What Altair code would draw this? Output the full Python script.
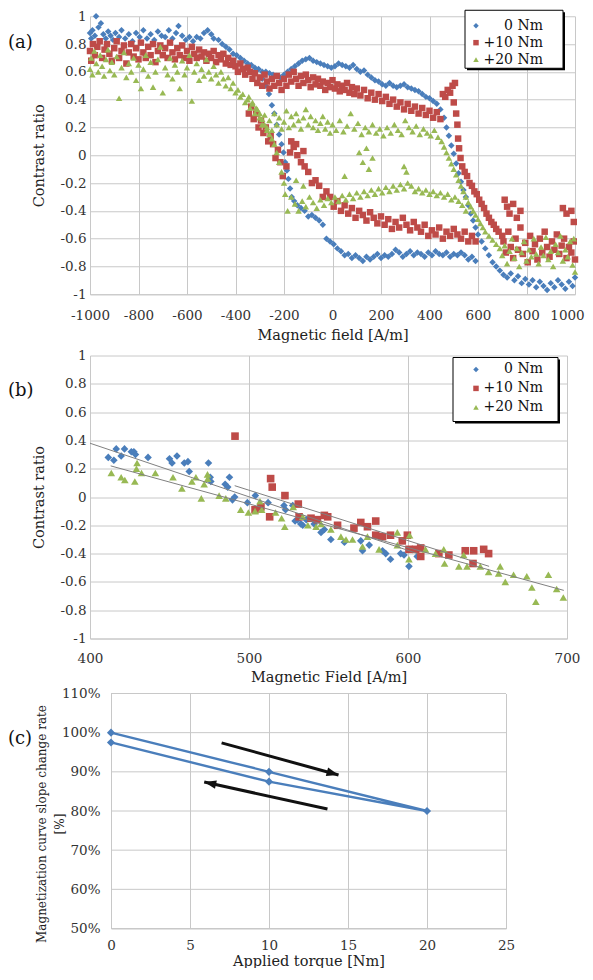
import altair as alt
import pandas as pd

FONT = "DejaVu Serif, serif"
SERIES = ["0 Nm", "+10 Nm", "+20 Nm"]
COLORS = ["#4a7ebb", "#be4b48", "#98b954"]
SHAPES = ["diamond", "square", "triangle-up"]

# ---------------- panel (a): magnetic field [A/m], contrast ratio ----------------
a_blue = [
    (-1000, 0.88), (-995, 0.84), (-990, 0.9), (-980, 0.86), (-975, 1.0), (-965, 0.92), (-955, 0.95),
    (-945, 0.87), (-935, 0.84), (-925, 0.89), (-915, 0.86), (-905, 0.83), (-895, 0.88), (-880, 0.85),
    (-870, 0.9), (-855, 0.84), (-840, 0.87), (-825, 0.82), (-810, 0.88), (-795, 0.85), (-780, 0.9),
    (-765, 0.84), (-750, 0.87), (-735, 0.83), (-720, 0.89), (-705, 0.86), (-690, 0.85), (-675, 0.9),
    (-660, 0.84), (-645, 0.88), (-635, 0.93), (-620, 0.86), (-605, 0.83), (-590, 0.85), (-575, 0.82),
    (-560, 0.85), (-545, 0.84), (-530, 0.88), (-515, 0.9), (-500, 0.87), (-490, 0.84),
    (-470, 0.83), (-455, 0.8), (-440, 0.78), (-425, 0.76), (-410, 0.73), (-395, 0.72), (-380, 0.7),
    (-365, 0.68), (-350, 0.66), (-335, 0.65), (-320, 0.63), (-305, 0.62), (-290, 0.6), (-275, 0.6),
    (-260, 0.59), (-245, 0.58), (-230, 0.57), (-215, 0.56), (-200, 0.58), (-185, 0.6),
    (-170, 0.62), (-155, 0.64), (-140, 0.66), (-125, 0.68), (-110, 0.69), (-95, 0.7), (-80, 0.68),
    (-65, 0.67), (-50, 0.66), (-35, 0.65), (-20, 0.64), (-5, 0.63), (10, 0.64), (25, 0.66), (40, 0.65),
    (55, 0.64), (70, 0.63), (85, 0.65), (100, 0.62), (115, 0.6), (130, 0.61), (145, 0.58), (160, 0.56),
    (175, 0.54), (190, 0.53), (205, 0.51), (220, 0.5), (235, 0.52), (250, 0.5), (265, 0.49), (280, 0.5),
    (295, 0.51), (310, 0.49), (325, 0.48), (340, 0.47), (355, 0.46), (370, 0.44), (385, 0.42),
    (400, 0.41), (415, 0.39), (430, 0.37), (445, 0.33),
    (460, 0.27), (470, 0.2), (480, 0.14), (490, 0.07), (500, 0.01), (510, -0.06), (520, -0.13),
    (530, -0.19), (540, -0.25), (550, -0.3), (560, -0.36), (570, -0.42), (580, -0.47), (590, -0.52),
    (600, -0.57), (615, -0.62), (630, -0.67), (645, -0.72), (660, -0.77), (675, -0.8), (690, -0.83),
    (705, -0.86), (720, -0.88), (735, -0.85), (750, -0.9), (765, -0.87), (780, -0.92), (795, -0.89),
    (810, -0.93), (825, -0.9), (840, -0.95), (855, -0.91), (870, -0.94), (885, -0.97), (900, -0.92),
    (915, -0.95), (930, -0.9), (945, -0.93), (960, -0.96), (975, -0.91), (990, -0.94), (1000, -0.88),
    (590, -0.76), (575, -0.73), (560, -0.75), (545, -0.72), (530, -0.7), (515, -0.72), (500, -0.71),
    (485, -0.73), (470, -0.7), (455, -0.72), (440, -0.71), (425, -0.69), (410, -0.72), (395, -0.7),
    (380, -0.73), (365, -0.71), (350, -0.7), (335, -0.72), (320, -0.69), (305, -0.71), (290, -0.73),
    (275, -0.7), (260, -0.68), (245, -0.71), (230, -0.73), (215, -0.72), (200, -0.74), (185, -0.71),
    (170, -0.73), (155, -0.75), (140, -0.73), (125, -0.76), (110, -0.74), (95, -0.72), (80, -0.74),
    (65, -0.71), (50, -0.72), (35, -0.69), (20, -0.67), (5, -0.64), (-10, -0.62), (-25, -0.6),
    (-40, -0.5), (-55, -0.47), (-70, -0.45), (-85, -0.43), (-100, -0.44), (-115, -0.4), (-130, -0.38),
    (-145, -0.36), (-158, -0.33), (-168, -0.3), (-175, -0.24), (-182, -0.17), (-188, -0.11),
    (-195, -0.05), (-202, 0.02), (-210, 0.08), (-220, 0.15), (-230, 0.22), (-240, 0.3), (-250, 0.36),
    (-262, 0.44), (-275, 0.5), (-290, 0.55),
]
a_red = [
    (-1000, 0.75), (-995, 0.68), (-988, 0.8), (-980, 0.72), (-970, 0.78), (-960, 0.82), (-950, 0.7),
    (-940, 0.76), (-930, 0.8), (-920, 0.73), (-910, 0.68), (-900, 0.77), (-890, 0.82), (-880, 0.7),
    (-870, 0.75), (-860, 0.79), (-850, 0.66), (-840, 0.74), (-830, 0.8), (-820, 0.71), (-810, 0.77),
    (-800, 0.69), (-790, 0.81), (-780, 0.74), (-770, 0.7), (-760, 0.78), (-750, 0.72), (-740, 0.8),
    (-730, 0.67), (-720, 0.75), (-710, 0.79), (-700, 0.72), (-690, 0.77), (-680, 0.7), (-670, 0.81),
    (-660, 0.74), (-650, 0.69), (-640, 0.77), (-630, 0.72), (-620, 0.79), (-610, 0.7), (-600, 0.75),
    (-590, 0.68), (-580, 0.78), (-570, 0.73), (-560, 0.7), (-550, 0.76), (-540, 0.71), (-530, 0.74),
    (-520, 0.68), (-510, 0.73), (-500, 0.7), (-490, 0.75), (-480, 0.67), (-470, 0.72), (-460, 0.69),
    (-450, 0.73), (-440, 0.66), (-430, 0.7), (-420, 0.65), (-410, 0.68),
    (-400, 0.64), (-390, 0.6), (-380, 0.66), (-370, 0.62), (-360, 0.58), (-350, 0.63), (-340, 0.6),
    (-330, 0.55), (-320, 0.59), (-310, 0.52), (-300, 0.56), (-290, 0.5), (-280, 0.58), (-270, 0.53),
    (-260, 0.48), (-250, 0.55), (-240, 0.5), (-230, 0.57), (-220, 0.52), (-210, 0.47), (-200, 0.55),
    (-190, 0.5), (-180, 0.58), (-170, 0.53), (-160, 0.6), (-150, 0.55), (-140, 0.5), (-130, 0.57),
    (-120, 0.52), (-110, 0.58), (-100, 0.54), (-90, 0.49), (-80, 0.56), (-70, 0.51), (-60, 0.55),
    (-50, 0.5), (-40, 0.53), (-30, 0.47), (-20, 0.52), (-10, 0.49), (0, 0.54), (10, 0.48), (20, 0.51),
    (30, 0.46), (40, 0.5), (50, 0.47), (60, 0.52), (70, 0.45), (80, 0.49), (90, 0.44), (100, 0.48),
    (115, 0.43), (130, 0.47), (145, 0.41), (160, 0.45), (175, 0.4), (190, 0.44), (205, 0.39),
    (220, 0.42), (235, 0.37), (250, 0.4), (265, 0.35), (280, 0.38), (295, 0.33), (310, 0.37),
    (325, 0.32), (340, 0.35), (355, 0.3), (370, 0.34), (385, 0.29), (400, 0.32), (415, 0.27),
    (430, 0.31), (445, 0.26),
    (455, 0.44), (465, 0.42), (475, 0.47), (485, 0.45), (495, 0.5), (505, 0.52), (500, 0.38), (510, 0.3),
    (515, 0.22), (518, 0.12), (522, 0.05), (528, -0.02), (535, -0.08), (545, -0.12), (555, -0.15),
    (565, -0.2), (575, -0.22), (585, -0.26), (595, -0.28), (605, -0.32), (615, -0.35), (625, -0.38),
    (635, -0.42), (645, -0.45), (655, -0.48), (665, -0.5), (675, -0.53), (685, -0.55), (700, -0.58),
    (710, -0.32), (720, -0.37), (730, -0.42), (745, -0.35), (760, -0.45), (775, -0.4), (950, -0.38),
    (965, -0.42), (985, -0.4), (995, -0.48),
    (705, -0.62), (715, -0.7), (725, -0.55), (735, -0.66), (745, -0.74), (755, -0.6), (765, -0.68),
    (775, -0.52), (785, -0.71), (795, -0.63), (805, -0.77), (815, -0.58), (825, -0.69), (835, -0.64),
    (845, -0.75), (855, -0.6), (865, -0.7), (875, -0.55), (885, -0.66), (895, -0.73), (905, -0.62),
    (915, -0.68), (925, -0.57), (935, -0.71), (945, -0.65), (955, -0.6), (965, -0.74), (975, -0.66),
    (985, -0.7), (995, -0.62), (1000, -0.75),
    (590, -0.62), (575, -0.58), (560, -0.62), (545, -0.55), (530, -0.6), (515, -0.57), (500, -0.53),
    (485, -0.58), (470, -0.55), (455, -0.6), (440, -0.52), (425, -0.57), (410, -0.54), (395, -0.58),
    (380, -0.5), (365, -0.55), (350, -0.52), (335, -0.48), (320, -0.54), (305, -0.5), (290, -0.45),
    (275, -0.52), (260, -0.48), (245, -0.53), (230, -0.46), (215, -0.5), (200, -0.44), (185, -0.49),
    (170, -0.45), (155, -0.41), (140, -0.47), (125, -0.43), (110, -0.4), (95, -0.45), (80, -0.38),
    (65, -0.42), (50, -0.36), (35, -0.4), (20, -0.33), (5, -0.37), (-10, -0.3), (-25, -0.26),
    (-40, -0.3), (-55, -0.22), (-70, -0.18), (-85, -0.2), (-100, -0.12), (-115, -0.08), (-130, -0.05),
    (-145, 0.0), (-160, 0.06), (-175, 0.02), (-190, -0.08), (-205, -0.15), (-215, -0.05),
    (-225, 0.04), (-235, -0.02), (-245, 0.08), (-255, 0.14), (-265, 0.1), (-275, 0.2), (-285, 0.16),
    (-295, 0.25), (-305, 0.2), (-315, 0.3), (-325, 0.26), (-335, 0.35), (-345, 0.3),
    (-170, 0.1), (-150, 0.08), (-120, 0.03),
]
a_green = [
    (-1000, 0.62), (-995, 0.7), (-990, 0.58), (-982, 0.75), (-974, 0.66), (-966, 0.6), (-958, 0.72),
    (-950, 0.64), (-942, 0.57), (-934, 0.69), (-926, 0.76), (-918, 0.61), (-910, 0.67), (-900, 0.58),
    (-890, 0.71), (-880, 0.41), (-870, 0.63), (-860, 0.74), (-850, 0.56), (-840, 0.66), (-830, 0.6),
    (-820, 0.7), (-810, 0.54), (-800, 0.65), (-790, 0.48), (-780, 0.62), (-770, 0.72), (-760, 0.57),
    (-750, 0.67), (-740, 0.49), (-730, 0.6), (-720, 0.69), (-710, 0.78), (-700, 0.45), (-690, 0.63),
    (-680, 0.58), (-670, 0.7), (-660, 0.55), (-650, 0.65), (-640, 0.6), (-630, 0.48), (-620, 0.68),
    (-610, 0.58), (-600, 0.63), (-590, 0.72), (-580, 0.39), (-570, 0.6), (-560, 0.66), (-550, 0.54),
    (-540, 0.62), (-530, 0.57), (-520, 0.69), (-510, 0.6), (-500, 0.55), (-490, 0.64), (-480, 0.58),
    (-470, 0.52), (-460, 0.6),
    (-450, 0.55), (-440, 0.5), (-430, 0.56), (-420, 0.48), (-410, 0.52), (-400, 0.45), (-390, 0.47),
    (-380, 0.42), (-370, 0.44), (-360, 0.38), (-350, 0.4), (-340, 0.34), (-330, 0.37), (-320, 0.3),
    (-310, 0.33),
    (-300, 0.27), (-290, 0.22), (-280, 0.29), (-270, 0.2), (-260, 0.25), (-250, 0.18), (-240, 0.3),
    (-230, 0.22), (-220, 0.27), (-210, 0.19), (-200, 0.24), (-190, 0.32), (-180, 0.2), (-170, 0.28),
    (-160, 0.22), (-150, 0.3), (-140, 0.25), (-130, 0.19), (-120, 0.27), (-110, 0.33), (-100, 0.22),
    (-90, 0.28), (-80, 0.2), (-70, 0.25), (-60, 0.18), (-50, 0.23), (-40, 0.28), (-30, 0.19),
    (-20, 0.24), (-10, 0.16), (0, 0.22), (15, 0.18), (30, 0.25), (45, 0.17), (60, 0.21), (75, 0.3),
    (90, 0.19), (105, 0.23), (120, 0.15), (135, 0.2), (150, 0.17), (165, 0.22), (180, 0.16),
    (195, 0.19), (210, 0.14), (225, 0.2), (240, 0.16), (255, 0.22), (270, 0.18), (285, 0.15),
    (300, 0.25), (315, 0.2), (330, 0.17), (345, 0.21), (360, 0.15), (375, 0.19), (390, 0.16),
    (405, 0.14), (420, 0.18), (435, 0.13),
    (450, 0.1), (460, 0.06), (470, 0.02), (480, -0.02), (490, -0.06), (500, -0.1), (510, -0.14),
    (520, -0.18), (530, -0.22), (540, -0.26), (550, -0.3), (560, -0.34), (570, -0.37), (580, -0.4),
    (590, -0.43), (600, -0.46), (610, -0.49), (620, -0.52), (630, -0.55), (645, -0.58), (660, -0.61),
    (675, -0.64), (690, -0.67),
    (700, -0.72), (710, -0.65), (720, -0.78), (730, -0.69), (740, -0.6), (750, -0.74), (760, -0.67),
    (770, -0.8), (780, -0.7), (790, -0.62), (800, -0.76), (810, -0.68), (820, -0.73), (830, -0.6),
    (840, -0.71), (850, -0.78), (860, -0.66), (870, -0.72), (880, -0.59), (890, -0.75), (900, -0.69),
    (910, -0.8), (920, -0.64), (930, -0.7), (940, -0.58), (950, -0.76), (960, -0.68), (970, -0.73),
    (980, -0.62), (990, -0.79), (1000, -0.84), (995, -0.6),
    (550, -0.4), (535, -0.36), (520, -0.33), (505, -0.3), (490, -0.32), (475, -0.28), (460, -0.3),
    (445, -0.27), (430, -0.29), (415, -0.26), (400, -0.28), (385, -0.25), (370, -0.27), (355, -0.24),
    (340, -0.26), (325, -0.22), (310, -0.2), (295, -0.24), (280, -0.21), (265, -0.25), (250, -0.22),
    (235, -0.26), (220, -0.23), (205, -0.27), (190, -0.24), (175, -0.28), (160, -0.25), (145, -0.29),
    (130, -0.26), (115, -0.3), (100, -0.27), (85, -0.31), (70, -0.28), (55, -0.32), (40, -0.29),
    (25, -0.33), (10, -0.3), (-5, -0.34), (-20, -0.31), (-35, -0.36), (-50, -0.32), (-65, -0.38),
    (-80, -0.34), (-95, -0.3), (-110, -0.37), (-125, -0.33), (-140, -0.4), (-155, -0.35),
    (-170, -0.3), (-185, -0.4), (-195, -0.28),
    (110, 0.02), (125, -0.05), (140, 0.05), (150, -0.1), (165, -0.02), (295, -0.08), (305, -0.12),
    (50, -0.15), (-150, -0.18), (-120, -0.22),
    (-200, -0.2), (-210, -0.12), (-220, -0.05), (-230, 0.02), (-240, 0.08), (-250, 0.12), (-260, 0.15),
    (-270, 0.18), (-280, 0.22), (-290, 0.26), (-300, 0.3), (-315, 0.34), (-330, 0.38), (-345, 0.42),
]
a_x_ticks = [-1000, -800, -600, -400, -200, 0, 200, 400, 600, 800, 1000]
ratio_ticks = [-1, -0.8, -0.6, -0.4, -0.2, 0, 0.2, 0.4, 0.6, 0.8, 1]

# ---------------- panel (b) ----------------
b_blue = [
    (411.5, 0.28), (415, 0.26), (416.5, 0.34), (419.6, 0.29), (421.7, 0.34), (426, 0.32), (427.6, 0.32),
    (428.6, 0.30), (436.5, 0.28), (450, 0.27), (451.6, 0.24), (454.7, 0.29), (459.3, 0.24),
    (461.6, 0.25), (462.4, 0.18), (474.5, 0.24), (475.6, 0.14), (476, 0.11), (485, 0.09), (486.6, 0.07),
    (487.7, 0.14), (489.6, -0.02), (491, 0.0), (499, -0.04), (504, 0.01), (512, -0.04), (522, -0.06),
    (523, -0.09), (527.5, -0.06), (529, -0.17), (530.5, -0.16), (532.6, -0.19), (533.8, -0.2),
    (536, -0.16), (541, -0.19), (545.3, -0.25), (547.4, -0.23), (551.5, -0.3), (560, -0.32),
    (570.3, -0.31), (571.4, -0.38), (575.6, -0.34), (584, -0.38), (586, -0.4), (589, -0.44),
    (595.4, -0.4), (597.5, -0.41), (600.6, -0.49), (605.8, -0.42),
]
b_red = [
    (491.2, 0.43), (513.6, 0.13), (514.6, 0.07), (522.6, 0.01), (503.8, -0.09), (507.5, -0.07),
    (513, -0.14), (531, -0.05), (531.5, -0.14), (539, -0.15), (543, -0.16), (547.4, -0.13),
    (549.5, -0.14), (555.7, -0.2), (566, -0.22), (570.3, -0.18), (574.5, -0.21), (579.7, -0.17),
    (579.7, -0.27), (584, -0.28), (589, -0.27), (596.4, -0.31), (599.6, -0.27), (600.6, -0.37),
    (604.8, -0.37), (608, -0.36), (608, -0.42), (619.4, -0.4), (625.7, -0.41), (636, -0.38),
    (641.3, -0.38), (640.9, -0.47), (647.6, -0.37), (650.7, -0.4),
]
b_green = [
    (413.4, 0.17), (419.6, 0.14), (421.9, 0.12), (428.2, 0.11), (429.6, 0.24), (429.2, 0.2),
    (432.4, 0.17), (441.1, 0.17), (452.2, 0.14), (457.8, 0.06), (464.1, 0.11), (466.6, 0.14),
    (470, -0.01), (471.8, 0.09), (473.9, 0.16), (474, 0.13), (481.2, 0.01), (485.4, -0.01),
    (494.8, -0.09), (499.6, -0.11), (503.8, -0.1), (506.9, -0.03), (508, -0.09), (516.7, -0.11),
    (520.5, -0.15), (522.5, -0.21), (527.8, -0.07), (533.8, -0.14), (537, -0.2), (542.2, -0.21),
    (545.3, -0.19), (551.5, -0.23), (557.8, -0.28), (561, -0.3), (565.1, -0.3), (571.4, -0.35),
    (574.5, -0.28), (581.8, -0.37), (593.3, -0.25), (593.3, -0.34), (601, -0.27), (600.6, -0.44),
    (611, -0.37), (617.3, -0.4), (622.5, -0.37), (623, -0.47), (632, -0.49), (635, -0.41),
    (637.1, -0.49), (645.5, -0.49), (650.7, -0.53), (657, -0.54), (658, -0.49), (661.2, -0.6),
    (666.4, -0.55), (674.7, -0.56), (677.9, -0.64), (680.4, -0.74), (688.3, -0.55), (693.5, -0.65),
    (697.7, -0.71),
]
b_trend_h0 = [400, 491, 413]
b_trend_c0 = [0.38, 0.08, 0.22]
b_trend_h1 = [606, 651, 698]
b_trend_c1 = [-0.40, -0.49, -0.66]
b_x_ticks = [400, 500, 600, 700]

# ---------------- panel (c) ----------------
c_torque = [0, 10, 20, 10, 0]
c_rate = [100, 90, 80, 87.5, 97.5]
c_arrow_t0 = [7.0, 13.7]
c_arrow_r0 = [97.4, 80.5]
c_arrow_t1 = [14.4, 5.9]
c_arrow_r1 = [89.2, 87.4]
c_arrow_angle = [15.6, 192.6]
c_x_ticks = [0, 5, 10, 15, 20, 25]
c_y_ticks = [50, 60, 70, 80, 90, 100, 110]


def series_frame(groups):
    rows = []
    for name, pts in groups:
        for h, c in pts:
            rows.append({"H": h, "C": c, "S": name})
    return pd.DataFrame(rows)


df_a = series_frame(zip(SERIES, [a_blue, a_red, a_green]))
df_b = series_frame(zip(SERIES, [b_blue, b_red, b_green]))
df_bt = pd.DataFrame({"H": b_trend_h0, "C": b_trend_c0, "H2": b_trend_h1, "C2": b_trend_c1})


def legend(lx, ly, rowpad):
    return alt.Legend(title=None, orient="none", legendX=lx, legendY=ly, labelFont=FONT,
                      labelFontSize=14, labelColor="#111111", labelAlign="right", labelOffset=60,
                      symbolSize=30, symbolStrokeWidth=0, rowPadding=rowpad, padding=0,
                      labelLimit=300)


def legend_box(x0, x1, y0, y1):
    d = pd.DataFrame({"k": [0]})
    shadow = alt.Chart(d).mark_rect(color="black").encode(
        x=alt.value(x0 + 2), x2=alt.value(x1 + 2), y=alt.value(y0 + 2), y2=alt.value(y1 + 2))
    frame = alt.Chart(d).mark_rect(fill="white", stroke="black", strokeWidth=1).encode(
        x=alt.value(x0), x2=alt.value(x1), y=alt.value(y0), y2=alt.value(y1))
    return [shadow, frame]


def panel_label(txt, x, y):
    return alt.Chart(pd.DataFrame({"t": [txt]})).mark_text(
        font=FONT, fontSize=18, align="left", baseline="middle", color="#111111"
    ).encode(x=alt.value(x), y=alt.value(y), text="t:N")


def ratio_y(title):
    return alt.Y("C:Q", scale=alt.Scale(domain=[-1, 1], nice=False),
                 axis=alt.Axis(values=ratio_ticks, title=title, labelExpr="'' + datum.value",
                               labelPadding=4, titlePadding=13))


color_enc = lambda leg: alt.Color("S:N", scale=alt.Scale(domain=SERIES, range=COLORS), legend=leg)
shape_enc = lambda leg: alt.Shape("S:N", scale=alt.Scale(domain=SERIES, range=SHAPES), legend=leg)

# ----- (a)
leg_a = legend(379, 2.4, 3)
xa = alt.X("H:Q", scale=alt.Scale(domain=[-1000, 1000], nice=False),
           axis=alt.Axis(values=a_x_ticks, title="Magnetic field [A/m]", labelExpr="'' + datum.value",
                         labelOffset=alt.condition("datum.value == 1000", alt.value(-8), alt.value(0)),
                         labelPadding=14, titlePadding=6.5))
pts_a = alt.Chart(df_a).mark_point(filled=True, opacity=1, size=42, strokeWidth=0).encode(
    x=xa, y=ratio_y("Contrast ratio"), color=color_enc(leg_a), shape=shape_enc(leg_a))
pa = alt.layer(pts_a, *legend_box(375, 473, -6, 52), panel_label("(a)", -82, 27)).properties(
    width=485, height=278)

# ----- (b)
leg_b = legend(379, 6.9, 5)
xb = alt.X("H:Q", scale=alt.Scale(domain=[400, 700], nice=False),
           axis=alt.Axis(values=b_x_ticks, title="Magnetic Field [A/m]", labelExpr="'' + datum.value",
                         labelPadding=12.5, titlePadding=5.75))
yb = ratio_y("Contrast ratio")
pts_b = alt.Chart(df_b).mark_point(filled=True, opacity=1, size=58, strokeWidth=0).encode(
    x=xb, y=yb, color=color_enc(leg_b), shape=shape_enc(leg_b))
trend_b = alt.Chart(df_bt).mark_rule(color="#808080", strokeWidth=1).encode(
    x=xb, y=yb, x2="H2:Q", y2="C2:Q")
pb = alt.layer(pts_b, trend_b, *legend_box(363, 468, 2, 66), panel_label("(b)", -82, 35)).properties(
    width=477, height=283)

# ----- (c)
xc = alt.X("T:Q", scale=alt.Scale(domain=[0, 25], range=[21, 416], nice=False),
           axis=alt.Axis(values=c_x_ticks, title="Applied torque [Nm]", labelPadding=9.5,
                         titlePadding=3))
yc = alt.Y("R:Q", scale=alt.Scale(domain=[50, 110], nice=False, zero=False),
           axis=alt.Axis(values=c_y_ticks, labelExpr="datum.value + '%'", grid=False, domain=False,
                         offset=-21, labelPadding=11, titlePadding=-5.5,
                         title=["Magnetization curve slope change rate", "[%]"],
                         titleFontSize=12, titleLineHeight=18, titleY=130))
df_c = pd.DataFrame({"T": c_torque, "R": c_rate, "step": list(range(len(c_torque)))})
df_cgrid = pd.DataFrame({"R": c_y_ticks, "T": [c_x_ticks[0]] * len(c_y_ticks),
                         "T2": [c_x_ticks[-1]] * len(c_y_ticks)})
df_arrow = pd.DataFrame({"T": c_arrow_t0, "R": c_arrow_r0, "T2": c_arrow_t1, "R2": c_arrow_r1})
df_head = pd.DataFrame({"T": c_arrow_t1, "R": c_arrow_r1, "ang": c_arrow_angle})

grid_c = alt.Chart(df_cgrid).mark_rule(color="#c8c8c8", strokeWidth=1).encode(x=xc, x2="T2:Q", y=yc)
line_c = alt.Chart(df_c).mark_line(color=COLORS[0], strokeWidth=2.4).encode(x=xc, y=yc, order="step:Q")
dots_c = alt.Chart(df_c).mark_point(shape="diamond", filled=True, opacity=1, size=66, color=COLORS[0],
                                    strokeWidth=0).encode(x=xc, y=yc)
arrow_c = alt.Chart(df_arrow).mark_rule(color="#111111", strokeWidth=3).encode(
    x=xc, y=yc, x2="T2:Q", y2="R2:Q")
head_c = alt.Chart(df_head).mark_point(shape="M0,0L-1,-0.36L-1,0.36Z", filled=True, opacity=1, size=576,
                                       color="#111111", strokeWidth=0).encode(
    x=xc, y=yc, angle=alt.Angle("ang:Q", scale=None))
pc = alt.layer(grid_c, line_c, dots_c, arrow_c, head_c, panel_label("(c)", -82, 45)).properties(
    width=416, height=235)

lower = alt.vconcat(pb, pc, spacing=2).resolve_scale(
    color="independent", shape="independent").resolve_legend(color="independent", shape="independent")

chart = alt.vconcat(pa, lower, spacing=6.25).resolve_scale(
    color="independent", shape="independent").resolve_legend(
    color="independent", shape="independent").properties(
    padding={"left": 0, "top": 1.25, "right": 0, "bottom": 0})

chart = chart.configure_view(stroke=None).configure_axis(
    labelFont=FONT, titleFont=FONT, labelFontSize=13.5, titleFontSize=14.5, titleFontWeight="normal",
    labelColor="#333333", titleColor="#222222", gridColor="#c8c8c8", domainColor="#c8c8c8",
    ticks=False, labelFlush=False, labelOverlap=False)

chart.save("out.html", embed_options={"renderer": "svg", "actions": False})
